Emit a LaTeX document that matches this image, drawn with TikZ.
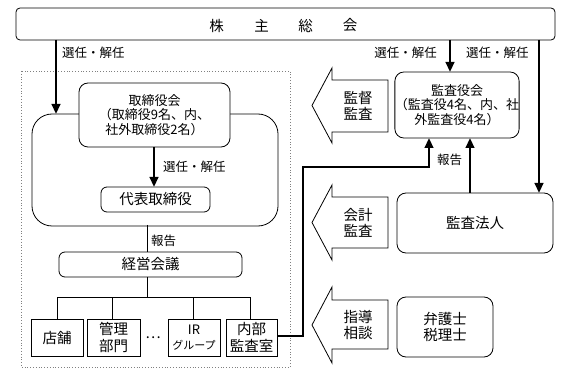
\documentclass[tikz,border=0pt]{standalone}
\usepackage{fontspec}
\setmainfont{Noto Sans CJK JP}
\usetikzlibrary{arrows.meta}
\begin{document}
\begin{tikzpicture}[x=1pt,y=-1pt,
  box/.style={draw,line width=0.8pt,fill=white,inner sep=0pt,outer sep=0pt,align=center,font=\fontsize{13}{14.5}\selectfont},
  rbox/.style={box,rounded corners=9pt},
  thick arrow/.style={line width=2.8pt,-{Triangle[width=8.5pt,length=10pt]}},
  thin line/.style={line width=0.8pt},
  lbl/.style={inner sep=0pt,font=\fontsize{12.5}{14}\selectfont},
  big/.style={font=\fontsize{14.5}{16.5}\selectfont},
  blockarrow/.style={draw,line width=0.8pt,fill=white,line join=miter}
]
\useasboundingbox (0,0) rectangle (562,379);

% top box
\node[box,rounded corners=4pt,minimum width=539pt,minimum height=32pt] (gm) at (285.5,24) {};
\node[lbl,big] (g1) at (216.7,25.5) {株};
\node[lbl,big] (g2) at (261.7,25.5) {主};
\node[lbl,big] (g3) at (305.5,25.5) {総};
\node[lbl,big] (g4) at (350,25.5) {会};

% dotted box
\draw[gray,dotted,line width=0.8pt] (21,71) rectangle (290,367);

% big rounded rectangle
\node[box,rounded corners=20pt,minimum width=246pt,minimum height=112pt] (bd) at (155,170) {};
% board
\node[rbox,minimum width=151pt,minimum height=64pt] (board) at (154.5,115) {取締役会\\（取締役9名、内、\\社外取締役2名）};
% representative director
\node[box,rounded corners=6pt,minimum width=109pt,minimum height=25pt,big] (rep) at (155.5,199.5) {代表取締役};
% management meeting
\node[box,rounded corners=6pt,minimum width=183pt,minimum height=25pt,big] (mm) at (150.5,264.5) {経営会議};

% bottom boxes
\node[box,minimum width=52pt,minimum height=37pt,big] (shop) at (57,337.5) {店舗};
\node[box,minimum width=53pt,minimum height=37pt,big] (admin) at (113.5,337.5) {管理\\部門};
\node[lbl,big] (dots) at (153,337.5) {…};
\node[box,minimum width=52pt,minimum height=37pt] (ir) at (194,337.5) {IR\\\fontsize{11}{13}\selectfont グループ};
\node[box,minimum width=51pt,minimum height=37pt,big] (audit) at (251.5,337.5) {内部\\監査室};

% auditors
\node[rbox,minimum width=122pt,minimum height=66pt] (kansa) at (457,105) {監査役会\\（監査役4名、内、社\\外監査役4名）};
\node[rbox,minimum width=156pt,minimum height=60pt,big] (firm) at (475,223) {監査法人};
\node[rbox,minimum width=96pt,minimum height=60pt,big] (law) at (445,327) {弁護士\\税理士};

% block arrows
\draw[blockarrow] (312,105.5) -- (332,68) -- (332,80) -- (388,80) -- (388,132) -- (332,132) -- (332,143) -- cycle;
\node[lbl,big,align=center] (ba1) at (358,106) {監督\\監査};
\draw[blockarrow] (312,222.5) -- (332,185) -- (332,197) -- (388,197) -- (388,248) -- (332,248) -- (332,260) -- cycle;
\node[lbl,big,align=center] (ba2) at (358,223) {会計\\監査};
\draw[blockarrow] (312,325) -- (332,287) -- (332,300) -- (388,300) -- (388,349) -- (332,349) -- (332,363) -- cycle;
\node[lbl,big,align=center] (ba3) at (358,325) {指導\\相談};

% connectors
\coordinate (a1s) at (56,40);
\coordinate (a1e) at (56,114);
\draw[thick arrow] (a1s) -- (a1e);
\node[lbl,anchor=west] (l1) at (62,53) {選任・解任};

\draw[thick arrow] (450,40) -- (kansa.north -| 450,0);
\node[lbl,anchor=east] (l2) at (437,53) {選任・解任};
\draw[thick arrow] (539,40) -- (539,193);
\node[lbl,anchor=west] (l3) at (466,53) {選任・解任};

\draw[thick arrow] (board.south -| 154,0) -- (rep.north -| 154,0);
\node[lbl,anchor=west] (l4) at (163,167) {選任・解任};

\draw[thin line] (147,225) -- (mm.north -| 147,0);
\node[lbl,anchor=west] (l5) at (151,241) {報告};

\draw[thin line] (mm.south -| 147,0) -- (147,297);
\draw[thin line] (shop.north) -- (57,297) -- (250,297) -- (audit.north -| 250,0);
\draw[thin line] (admin.north -| 112,0) -- (112,297);
\draw[thin line] (ir.north -| 193,0) -- (193,297);

\draw[line width=2.8pt,line join=miter,-{Triangle[width=8.5pt,length=10pt]}] (audit.east |- 0,336) -- (303,336) -- (303,167) -- (429,167) -- (kansa.south -| 429,0);
\draw[thick arrow] (firm.north -| 470,0) -- (kansa.south -| 470,0);
\node[lbl,anchor=west] (l6) at (437,160) {報告};
\end{tikzpicture}
\end{document}
